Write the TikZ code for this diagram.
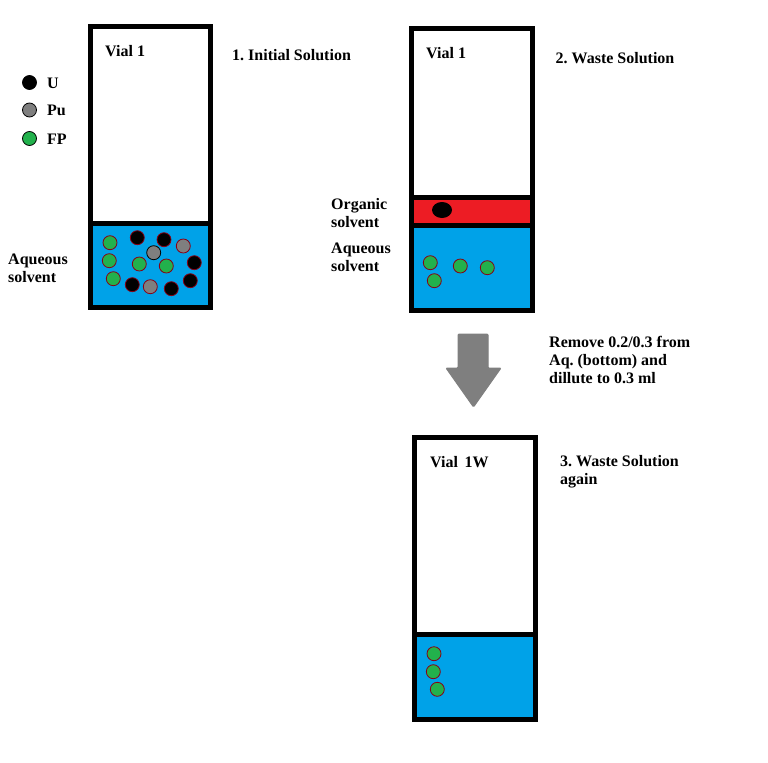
\documentclass[tikz,border=0pt]{standalone}
\usepackage{fontspec}
\setmainfont{Liberation Serif}
\definecolor{aq}{HTML}{00A2E8}
\definecolor{org}{HTML}{ED1C24}
\definecolor{fpg}{HTML}{22B14C}
\definecolor{pug}{HTML}{7F7F7F}
\definecolor{rim}{HTML}{880015}
\begin{document}
\frenchspacing
\begin{tikzpicture}[x=1bp,y=-1bp,
  lbl/.style={anchor=base west,inner sep=0pt,align=left,font=\fontsize{16bp}{18bp}\selectfont\bfseries},
  wall/.style={draw=black,line width=5bp},
  ud/.style={circle,fill=black,draw=rim,line width=0.8bp,inner sep=0pt,minimum size=14bp},
  pud/.style={circle,fill=pug,draw=rim,line width=0.8bp,inner sep=0pt,minimum size=14bp},
  fpd/.style={circle,fill=fpg,draw=rim,line width=0.8bp,inner sep=0pt,minimum size=14bp},
  bigarrow/.style={fill=pug,draw=pug,line width=1bp,rounded corners=1bp}]
\useasboundingbox (0,0) rectangle (768,763);

% legend
\node[ud,draw=black] (lu) at (29.5,82.5) {};
\node[pud,draw=black] (lpu) at (29.5,110) {};
\node[fpd,draw=black] (lfp) at (29.5,138.5) {};
\node[lbl] (tu) at (47,88) {U};
\node[lbl] (tpu) at (47,115.5) {Pu};
\node[lbl] (tfp) at (47,144) {FP};

% vial 1
\fill[aq] (90.5,223.5) rectangle (210.5,307.5);
\draw[wall] (90.5,26.5) rectangle (210.5,307.5);
\draw[wall] (90.5,223.5) -- (210.5,223.5);
\node[lbl] (v1t) at (105,56.5) {Vial 1};
\node[lbl] (s1) at (232,60.5) {1. Initial Solution};
\node[lbl] (aq1) at (8,282.5) {Aqueous\\solvent};
\foreach \p in {(110,242.7),(109.3,260.7),(113.3,278.7),(139.3,264),(166.3,266)}
  \node[fpd] at \p {};
\foreach \p in {(137.3,237.7),(164,239.7),(194.3,262.7),(190.3,280.7),(132.3,284.7),(171.3,288.7)}
  \node[ud] at \p {};
\foreach \p in {(183.3,246),(150.3,286.7)}
  \node[pud] at \p {};
\node[pud,draw=black] at (153.7,252.7) {};

% vial 2
\fill[org] (411.5,197.5) rectangle (532.5,225);
\fill[aq] (411.5,225) rectangle (532.5,310.5);
\draw[wall] (411.5,28.5) rectangle (532.5,310.5);
\draw[wall] (411.5,197.5) -- (532.5,197.5);
\draw[wall] (411.5,225) -- (532.5,225);
\fill[black] (442,210) ellipse [x radius=10,y radius=8];
\foreach \p in {(430.3,262.7),(460.3,266),(487.3,267.7),(434.3,280.7)}
  \node[fpd] at \p {};
\node[lbl] (v2t) at (426,58.5) {Vial 1};
\node[lbl] (s2) at (555.5,63.5) {2. Waste Solution};
\node[lbl] (org2) at (331,227) {Organic\\solvent};
\node[lbl] (aq2) at (331,271) {Aqueous\\solvent};

% arrow
\fill[bigarrow] (458,334) -- (488,334) -- (488,368) -- (501,368) -- (473.5,407) -- (446,368) -- (458,368) -- cycle;
\node[lbl] (step) at (549,383.5) {Remove 0.2/0.3 from\\Aq. (bottom) and\\dillute to 0.3 ml};

% vial 3
\fill[aq] (414.5,634) rectangle (535.5,719.5);
\draw[wall] (414.5,437.5) rectangle (535.5,719.5);
\draw[wall] (414.5,634) -- (535.5,634);
\foreach \p in {(434,653.7),(433.3,671.7),(437.3,689.3)}
  \node[fpd] at \p {};
\node[lbl] (v3t) at (430,467) {Vial\, 1W};
\node[lbl] (s3) at (560,484.5) {3. Waste Solution\\again};
\end{tikzpicture}
\end{document}
